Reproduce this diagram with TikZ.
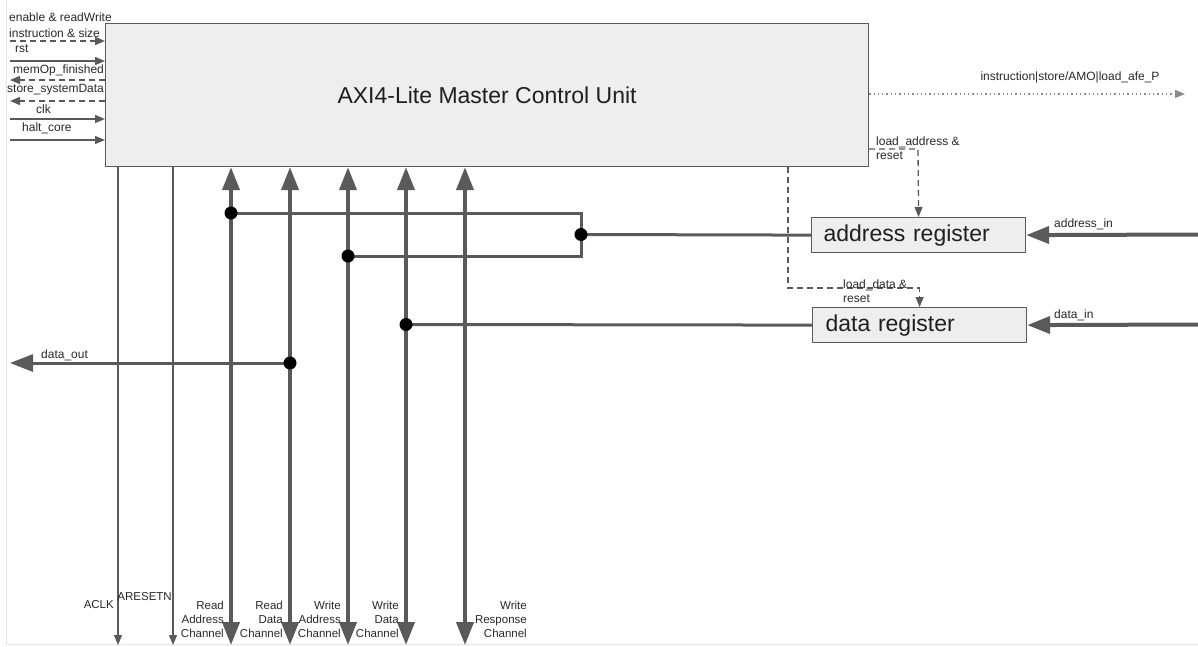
\documentclass[tikz,border=0pt]{standalone}
\usepackage{fontspec}
\setmainfont{Liberation Sans}
\usetikzlibrary{arrows.meta}
\definecolor{lc}{RGB}{90,90,90}
\definecolor{bx}{RGB}{238,238,238}
\definecolor{tc}{RGB}{40,40,40}
\definecolor{fr}{RGB}{228,228,228}
\begin{document}
\begin{tikzpicture}[x=1pt,y=-1pt,
 lbl/.style={font=\fontsize{12}{14}\selectfont, text=tc, inner sep=0pt, align=left},
 blbl/.style={font=\fontsize{11.5}{14}\selectfont, text=tc, inner sep=0pt, align=right},
 thin/.style={draw=lc, line width=1.3pt, >={Triangle[length=10pt,width=8pt]}},
 dsh/.style={thin, dash pattern=on 6pt off 4pt},
 bus/.style={draw=lc, line width=4pt, >={Triangle[length=23pt,width=17pt]}},
 hbus/.style={draw=lc, line width=3pt, >={Triangle[length=23pt,width=17pt]}},
 jdot/.style={circle, fill=black, minimum size=13pt, inner sep=0pt},
 blk/.style={draw=lc, line width=1.2pt, fill=bx, inner sep=0pt},
 big/.style={font=\fontsize{23}{27}\selectfont, text=black!88}
]
\useasboundingbox (0,0) rectangle (1198,647);
\draw[fr, line width=1pt] (6,0) -- (6,644) -- (1198,644);

% blocks
\node[blk, big, minimum width=763pt, minimum height=143pt, anchor=north west] (cu) at (105,23) {AXI4-Lite Master Control Unit};
\node[blk, big, minimum width=214pt, minimum height=35pt, text width=190pt, align=left, anchor=north west] (areg) at (811,217) {address register};
\node[blk, big, minimum width=214pt, minimum height=35pt, text width=188pt, align=left, anchor=north west] (dreg) at (812,307) {data register};

% left signals
\coordinate (s1) at (10,41);
\coordinate (s2) at (10,61);
\coordinate (s3) at (10,80);
\coordinate (s4) at (10,101);
\coordinate (s5) at (10,119);
\coordinate (s6) at (10,140);
\draw[dsh,->] (s1) -- (s1 -| cu.west);
\draw[thin,->] (s2) -- (s2 -| cu.west);
\draw[dsh,->] (s3 -| cu.west) -- (s3);
\draw[dsh,->] (s4 -| cu.west) -- (s4);
\draw[thin,->] (s5) -- (s5 -| cu.west);
\draw[thin,->] (s6) -- (s6 -| cu.west);
\node[lbl, anchor=west] (t1) at (9,17) {enable \& readWrite};
\node[lbl, anchor=west] (t2) at (9,33) {instruction \& size};
\node[lbl, anchor=west] (t3) at (15,49) {rst};
\node[lbl, anchor=west] (t4) at (13,70) {memOp\_finished};
\node[lbl, anchor=west] (t5) at (7,90) {store\_systemData};
\node[lbl, anchor=west] (t6) at (36,109) {clk};
\node[lbl, anchor=west] (t7) at (22,128) {halt\_core};

% dotted output
\coordinate (dt) at (1185,94);
\draw[thin, draw=lc!70, dash pattern=on 1.3pt off 3pt, ->] (dt -| cu.east) -- (dt);
\node[lbl, anchor=center] (tdt) at (1070,77) {instruction|store/AMO|load\_afe\_P};

% load signals
\coordinate (la) at (918,149);
\draw[dsh,->] (la -| cu.east) -- (la) -- (areg.north);
\node[lbl, anchor=west] (tla) at (876,148) {load\_address \&\\reset};
\coordinate (ld) at (788,288);
\draw[dsh,->] (ld |- cu.south) -- (ld) -- (ld -| dreg.north) -- (dreg.north);
\node[lbl, anchor=west] (tld) at (843,291) {load\_data \&\\reset};

% inputs
\coordinate (ain) at (1198,234.5);
\draw[bus,->] (ain) -- (areg.east);
\node[lbl, anchor=west] (tain) at (1054,224) {address\_in};
\coordinate (din) at (1198,324.5);
\draw[bus,->] (din) -- (dreg.east);
\node[lbl, anchor=west] (tdin) at (1054,315) {data\_in};

% clock and reset
\coordinate (ck) at (118,645);
\coordinate (rs) at (173,645);
\draw[thin,->] (ck |- cu.south) -- (ck);
\draw[thin,->] (rs |- cu.south) -- (rs);
\node[blbl, anchor=east] (tck) at (114,605) {ACLK};
\node[blbl, anchor=east] (trs) at (172,597) {ARESETN};

% channels
\coordinate (b1) at (231,645);
\coordinate (b2) at (290,645);
\coordinate (b3) at (348,645);
\coordinate (b4) at (406,645);
\coordinate (b5) at (465,645);
\draw[bus,<->] (b1 |- cu.south) -- (b1);
\draw[bus,<->] (b2 |- cu.south) -- (b2);
\draw[bus,<->] (b3 |- cu.south) -- (b3);
\draw[bus,<->] (b4 |- cu.south) -- (b4);
\draw[bus,<->] (b5 |- cu.south) -- (b5);
\node[blbl, anchor=east] (tb1) at (224,619) {Read\\Address\\Channel};
\node[blbl, anchor=east] (tb2) at (283,619) {Read\\Data\\Channel};
\node[blbl, anchor=east] (tb3) at (341,619) {Write\\Address\\Channel};
\node[blbl, anchor=east] (tb4) at (399,619) {Write\\Data\\Channel};
\node[blbl, anchor=east] (tb5) at (527,619) {Write\\Response\\Channel};

% junction nets
\coordinate (ja) at (231,213);
\coordinate (jb) at (348,256);
\coordinate (jc) at (581,234.5);
\coordinate (jd) at (406,324.5);
\coordinate (je) at (290,363);
\coordinate (dout) at (10,363);
\draw[hbus] (ja) -- (ja -| jc) -- (jb -| jc) -- (jb);
\draw[hbus] (jc) -- (areg.west);
\draw[hbus] (jd) -- (dreg.west);
\draw[hbus,->] (je) -- (dout);
\node[lbl, anchor=west] (tdout) at (41,355) {data\_out};
\node[jdot] (dja) at (ja) {};
\node[jdot] (djb) at (jb) {};
\node[jdot] (djc) at (jc) {};
\node[jdot] (djd) at (jd) {};
\node[jdot] (dje) at (je) {};
\end{tikzpicture}
\end{document}
